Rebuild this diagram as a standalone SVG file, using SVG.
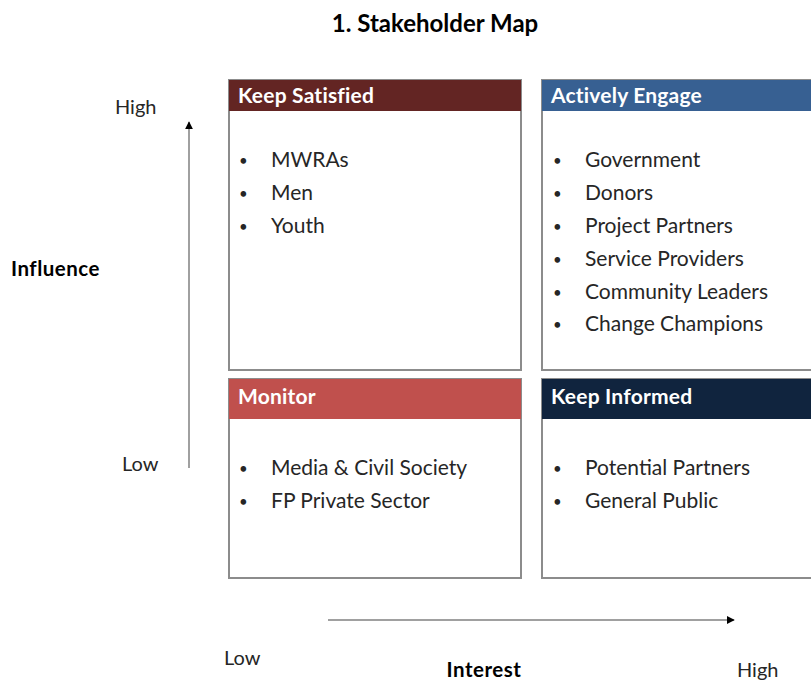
<svg xmlns="http://www.w3.org/2000/svg" width="811" height="681" viewBox="0 0 811 681">
  <style>
    .frame { fill: #ffffff; stroke: #8c8c8c; stroke-width: 2; }
    .hd { font-family: Lato, "Open Sans", sans-serif; font-weight: bold; font-size: 21px; letter-spacing: 0.2px; fill: #ffffff; }
    .item { font-family: Lato, "Open Sans", sans-serif; font-size: 21px; fill: #262626; }
    .dot { font-family: Lato, "Open Sans", sans-serif; font-size: 15px; fill: #262626; }
    .lbl { font-family: Lato, "Open Sans", sans-serif; font-size: 20px; fill: #262626; }
    .axis-title { font-family: Lato, "Open Sans", sans-serif; font-weight: bold; font-size: 20.5px; letter-spacing: 0.5px; fill: #000000; }
    .title { font-family: Lato, "Open Sans", sans-serif; font-weight: bold; font-size: 24px; fill: #000000; }
    .axis { stroke: #808080; stroke-width: 1.5; fill: none; }
  </style>
  <defs>
    <marker id="tip" viewBox="0 0 10 10" refX="9" refY="5" markerWidth="8" markerHeight="8" markerUnits="userSpaceOnUse" orient="auto">
      <path d="M0,0 L10,5 L0,10 z" fill="#000000"/>
    </marker>
  </defs>

  <rect width="811" height="681" fill="#ffffff"/>

  <text class="title" x="435" y="32" text-anchor="middle">1. Stakeholder Map</text>

  <!-- Quadrant: high influence, low interest -->
  <g id="keep-satisfied">
    <rect class="frame" x="229" y="80" width="292" height="290"/>
    <rect x="229" y="80" width="292" height="31" fill="#632523"/>
    <text class="hd" x="238" y="103">Keep Satisfied</text>
    <g class="dot">
      <text x="239" y="166">•</text>
      <text x="239" y="199">•</text>
      <text x="239" y="232">•</text>
    </g>
    <g class="item">
      <text x="271" y="167">MWRAs</text>
      <text x="271" y="200">Men</text>
      <text x="271" y="233">Youth</text>
    </g>
  </g>

  <!-- Quadrant: high influence, high interest -->
  <g id="actively-engage">
    <rect class="frame" x="542" y="80" width="280" height="290"/>
    <rect x="542" y="80" width="280" height="31" fill="#376092"/>
    <text class="hd" x="551" y="103">Actively Engage</text>
    <g class="dot">
      <text x="553" y="166">•</text>
      <text x="553" y="199">•</text>
      <text x="553" y="232">•</text>
      <text x="553" y="265">•</text>
      <text x="553" y="298">•</text>
      <text x="553" y="330">•</text>
    </g>
    <g class="item">
      <text x="585" y="167">Government</text>
      <text x="585" y="200">Donors</text>
      <text x="585" y="233">Project Partners</text>
      <text x="585" y="266">Service Providers</text>
      <text x="585" y="299">Community Leaders</text>
      <text x="585" y="331">Change Champions</text>
    </g>
  </g>

  <!-- Quadrant: low influence, low interest -->
  <g id="monitor">
    <rect class="frame" x="229" y="379" width="292" height="199"/>
    <rect x="229" y="379" width="292" height="40" fill="#c0504d"/>
    <text class="hd" x="238" y="404">Monitor</text>
    <g class="dot">
      <text x="239" y="474">•</text>
      <text x="239" y="507">•</text>
    </g>
    <g class="item">
      <text x="271" y="475">Media &amp; Civil Society</text>
      <text x="271" y="508">FP Private Sector</text>
    </g>
  </g>

  <!-- Quadrant: low influence, high interest -->
  <g id="keep-informed">
    <rect class="frame" x="542" y="379" width="280" height="199"/>
    <rect x="542" y="379" width="280" height="40" fill="#10243e"/>
    <text class="hd" x="551" y="404">Keep Informed</text>
    <g class="dot">
      <text x="553" y="474">•</text>
      <text x="553" y="507">•</text>
    </g>
    <g class="item">
      <text x="585" y="475">Potential Partners</text>
      <text x="585" y="508">General Public</text>
    </g>
  </g>

  <!-- Axes -->
  <g id="axes">
    <line class="axis" x1="189" y1="468" x2="189" y2="122" marker-end="url(#tip)"/>
    <line class="axis" x1="328" y1="620" x2="734" y2="620" marker-end="url(#tip)"/>
  </g>

  <g id="axis-labels">
    <text class="lbl" x="115" y="114">High</text>
    <text class="lbl" x="122" y="471">Low</text>
    <text class="axis-title" x="11" y="276">Influence</text>
    <text class="lbl" x="224" y="665">Low</text>
    <text class="axis-title" x="484" y="677" text-anchor="middle">Interest</text>
    <text class="lbl" x="737" y="677">High</text>
  </g>
</svg>
